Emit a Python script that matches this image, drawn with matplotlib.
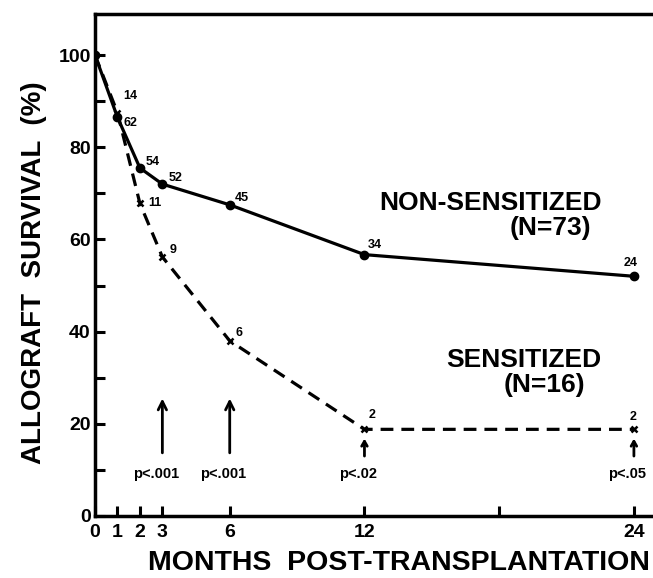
import matplotlib
matplotlib.use("Agg")
import matplotlib.pyplot as plt

# data
months = [0, 1, 2, 3, 6, 12, 24]
non_sens = [100, 86.5, 75.5, 72, 67.5, 56.7, 52]
sens = [100, 87.5, 67.8, 56.2, 38.0, 18.8, 18.8]
non_sens_n = ["", "62", "54", "52", "45", "34", "24"]
sens_n = ["", "14", "11", "9", "6", "2", "2"]
p_months = [3, 6, 12, 24]
p_labels = ["p<.001", "p<.001", "p<.02", "p<.05"]
xtick_pos = [0, 1, 2, 3, 6, 12, 18, 24]
xtick_lab = ["0", "1", "2", "3", "6", "12", "", "24"]

plt.rcParams['font.family'] = ['Liberation Sans', 'DejaVu Sans']
plt.rcParams['font.weight'] = 'bold'

fig = plt.figure(figsize=(6.53, 5.78), dpi=100)
ax = fig.add_axes([95 / 653, 62 / 578, 558 / 653, 502 / 578])

ax.plot(months, non_sens, color='black', lw=2.3, marker='o', ms=6, zorder=3)
ax.plot(months, sens, color='black', lw=2.3, ls=(0, (4, 2.5)), marker='x',
        ms=4, mew=1.8, zorder=3)

# numbers at risk
ns_off = [None, (6, -6), (6, 6), (6, 6), (5, 7), (3, 10), (-3, 13)]
ns_ha = [None, 'left', 'left', 'left', 'left', 'left', 'center']
for i in range(1, len(months)):
    ax.annotate(non_sens_n[i], (months[i], non_sens[i]), xytext=ns_off[i],
                textcoords='offset pixels', ha=ns_ha[i], va='center',
                fontsize=9, fontweight='bold')
s_off = [None, (6, 17), (8, 0), (7, 7), (6, 8), (4, 14), (-1, 12)]
s_ha = [None, 'left', 'left', 'left', 'left', 'left', 'center']
for i in range(1, len(months)):
    ax.annotate(sens_n[i], (months[i], sens[i]), xytext=s_off[i],
                textcoords='offset pixels', ha=s_ha[i], va='center',
                fontsize=9, fontweight='bold')

# significance arrows
for m, lab in zip(p_months, p_labels):
    if m < 12:
        tail, head = 13.7, 25.5
        style = '->,head_length=0.6,head_width=0.3'
    else:
        tail, head = 13.0, 16.8
        style = '->,head_length=0.35,head_width=0.2'
    ax.annotate('', xy=(m, head), xytext=(m, tail),
                arrowprops=dict(arrowstyle=style, lw=2, color='black',
                                shrinkA=0, shrinkB=0))
    ax.text(m - 0.3, 9.2, lab, ha='center', va='center', fontsize=10.5,
            fontweight='bold', clip_on=False)

ax.text(17.6, 67.9, "NON-SENSITIZED", ha='center', va='center', fontsize=19,
        fontweight='bold')
ax.text(20.3, 62.5, "(N=73)", ha='center', va='center', fontsize=19,
        fontweight='bold')
ax.text(19.1, 33.8, "SENSITIZED", ha='center', va='center', fontsize=19,
        fontweight='bold')
ax.text(20.0, 28.4, "(N=16)", ha='center', va='center', fontsize=19,
        fontweight='bold')

ax.set_xlim(0, 24.85)
ax.set_ylim(0, 108.9)
ax.set_xticks(xtick_pos)
ax.set_xticklabels(xtick_lab)
ax.set_yticks([0, 20, 40, 60, 80, 100])
ax.set_yticks([10, 30, 50, 70, 90], minor=True)
ax.tick_params(axis='both', which='both', direction='in', width=2.2,
               labelsize=14)
ax.tick_params(axis='both', which='major', length=7)
ax.tick_params(axis='y', which='minor', length=7)
ax.tick_params(axis='x', pad=6)
ax.tick_params(axis='y', pad=3)
for lab in ax.get_xticklabels() + ax.get_yticklabels():
    lab.set_fontweight('bold')
ax.spines['right'].set_visible(False)
for s in ['left', 'top', 'bottom']:
    ax.spines[s].set_linewidth(2.5)

ax.set_xlabel("MONTHS  POST-TRANSPLANTATION", fontsize=20.5, fontweight='bold',
              labelpad=6, x=0.545)
ax.set_ylabel("ALLOGRAFT  SURVIVAL  (%)", fontsize=20, fontweight='bold',
              labelpad=8, y=0.485)

fig.savefig("out.png", dpi=100)
